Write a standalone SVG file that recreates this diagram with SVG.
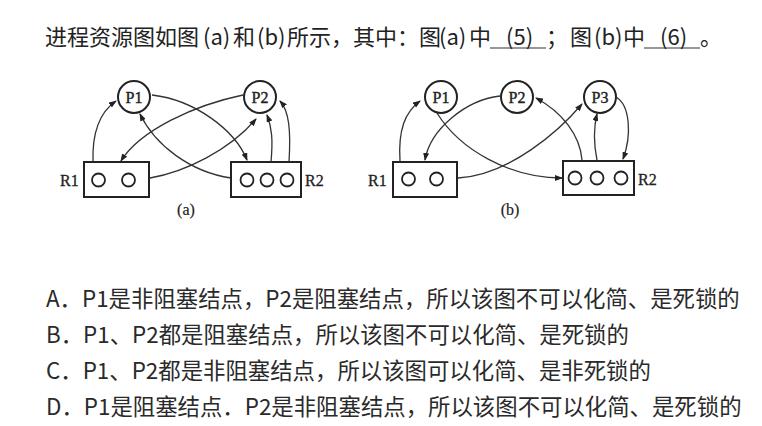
<svg xmlns="http://www.w3.org/2000/svg" width="762" height="426" viewBox="0 0 762 426">
<style>
.t{font-family:"Noto Sans CJK SC","Liberation Sans",sans-serif;font-size:22px;fill:#222}
.o{font-family:"Noto Sans CJK SC","Liberation Sans",sans-serif;font-size:22.4px;fill:#2a2a2a}
.pn{fill:#fff;stroke:#222;stroke-width:2}
.pl{font-family:"Liberation Serif",serif;font-size:16px;fill:#222;text-anchor:middle;stroke:#222;stroke-width:0.4}
.box{fill:#fff;stroke:#222;stroke-width:2}
.slot{fill:none;stroke:#222;stroke-width:1.8}
.rl{font-family:"Liberation Serif",serif;font-size:16px;fill:#222;stroke:#222;stroke-width:0.3}
.cap{font-family:"Liberation Serif",serif;font-size:16px;fill:#222;text-anchor:middle;stroke:#222;stroke-width:0.2}
.e{fill:none;stroke:#333;stroke-width:1.3;marker-end:url(#ah)}
.ul{stroke:#333;stroke-width:1.2}
</style>
<defs>
<marker id="ah" markerWidth="8" markerHeight="6" refX="7" refY="3" orient="auto" markerUnits="userSpaceOnUse">
<path d="M0,0 L8,3 L0,6 Z" fill="#222"/>
</marker>
</defs>
<rect width="762" height="426" fill="#fff"/>

<g id="question">
<text class="t" y="45"><tspan x="45">进程资源图如图</tspan><tspan x="203">(a)</tspan><tspan x="233">和</tspan><tspan x="257">(b)</tspan><tspan x="287">所示，其中：图</tspan><tspan x="439">(a)</tspan><tspan x="469">中</tspan><tspan x="506">(5)</tspan><tspan x="546">；</tspan><tspan x="570">图</tspan><tspan x="594">(b)</tspan><tspan x="623">中</tspan><tspan x="660">(6)</tspan><tspan x="700">。</tspan></text>
<line class="ul" x1="490" y1="48" x2="546" y2="48"/>
<line class="ul" x1="644" y1="48" x2="700" y2="48"/>
</g>

<g id="connectors-a">
<path class="e" d="M93,162 C92,132 100,112 116,101"/>
<path class="e" d="M231,178 C190,172 155,145 140,114"/>
<path class="e" d="M152,95 C195,100 235,130 247,160"/>
<path class="e" d="M243,95 C195,105 140,130 121,161"/>
<path class="e" d="M150,178 C185,172 230,150 256,119"/>
<path class="e" d="M271,162 C273,140 272,128 267,115"/>
<path class="e" d="M289,162 C291,130 289,111 280,101"/>
</g>

<g id="a-P1"><circle class="pn" cx="134" cy="97" r="16"/><text class="pl" x="134" y="102.5">P1</text></g>
<g id="a-P2"><circle class="pn" cx="260" cy="97" r="16"/><text class="pl" x="260" y="102.5">P2</text></g>
<g id="a-R1"><rect class="box" x="84" y="162" width="65" height="35"/><circle class="slot" cx="98.5" cy="180" r="6.5"/><circle class="slot" cx="128.5" cy="180" r="6.5"/><text class="rl" x="60" y="186">R1</text></g>
<g id="a-R2"><rect class="box" x="231" y="162" width="70" height="35"/><circle class="slot" cx="247" cy="180" r="6.5"/><circle class="slot" cx="267" cy="180" r="6.5"/><circle class="slot" cx="287" cy="180" r="6.5"/><text class="rl" x="305" y="186">R2</text></g>
<text class="cap" x="186" y="215">(a)</text>

<g id="connectors-b">
<path class="e" d="M400,161 C398,130 405,112 420,101"/>
<path class="e" d="M437,113 C460,150 510,178 562,178"/>
<path class="e" d="M500,96 C465,100 430,130 425,160"/>
<path class="e" d="M458,178 C510,175 560,130 582,104"/>
<path class="e" d="M582,160 C580,135 562,112 536,98"/>
<path class="e" d="M597,160 C593,140 594,126 597,114"/>
<path class="e" d="M616,97 C630,105 632,135 623,159"/>
</g>

<g id="b-P1"><circle class="pn" cx="441" cy="97" r="16"/><text class="pl" x="441" y="102.5">P1</text></g>
<g id="b-P2"><circle class="pn" cx="517" cy="97" r="16"/><text class="pl" x="517" y="102.5">P2</text></g>
<g id="b-P3"><circle class="pn" cx="600" cy="97" r="16"/><text class="pl" x="600" y="102.5">P3</text></g>
<g id="b-R1"><rect class="box" x="393" y="162" width="64" height="35"/><circle class="slot" cx="408.5" cy="179" r="6.5"/><circle class="slot" cx="436.5" cy="179" r="6.5"/><text class="rl" x="368" y="186">R1</text></g>
<g id="b-R2"><rect class="box" x="563" y="161" width="71" height="34"/><circle class="slot" cx="575" cy="178" r="6.5"/><circle class="slot" cx="597" cy="178" r="6.5"/><circle class="slot" cx="621" cy="178" r="6.5"/><text class="rl" x="638" y="185">R2</text></g>
<text class="cap" x="510" y="215">(b)</text>

<g id="options">
<text class="o" x="46" y="307">A．P1是非阻塞结点，P2是阻塞结点，所以该图不可以化简、是死锁的</text>
<text class="o" x="46" y="343">B．P1、P2都是阻塞结点，所以该图不可以化简、是死锁的</text>
<text class="o" x="46" y="379">C．P1、P2都是非阻塞结点，所以该图可以化简、是非死锁的</text>
<text class="o" x="46" y="415">D．P1是阻塞结点．P2是非阻塞结点，所以该图不可以化简、是死锁的</text>
</g>
</svg>
